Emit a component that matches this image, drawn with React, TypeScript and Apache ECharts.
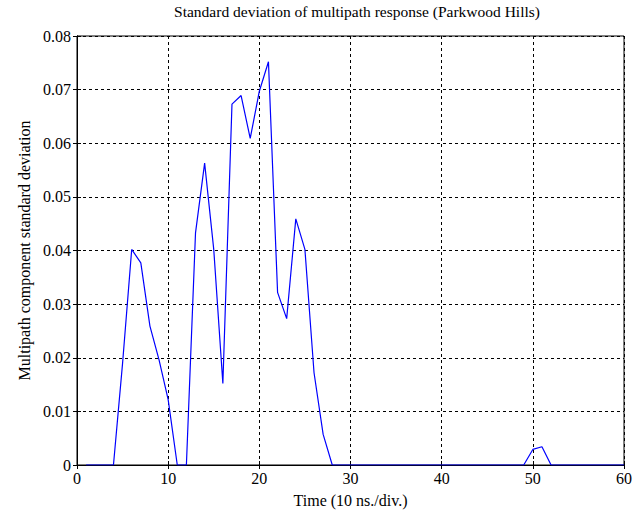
import React, { useEffect, useRef } from "react";
import * as echarts from "echarts";

const timeSteps: number[] = Array.from({ length: 60 }, (_, i) => i + 1);
const stdValues: number[] = [
  0, 0, 0, 0, 0.019, 0.0402, 0.0377, 0.0259, 0.0196, 0.0122,
  0, 0, 0.0433, 0.0563, 0.0402, 0.0152, 0.0673, 0.0689, 0.0609, 0.0697,
  0.0752, 0.0322, 0.0273, 0.0459, 0.0402, 0.0172, 0.0057, 0, 0, 0,
  0, 0, 0, 0, 0, 0, 0, 0, 0, 0,
  0, 0, 0, 0, 0, 0, 0, 0, 0, 0.0029,
  0.0034, 0, 0, 0, 0, 0, 0, 0, 0, 0,
];
const titleText = "Standard deviation of multipath response (Parkwood Hills)";
const xName = "Time (10 ns./div.)";
const yName = "Multipath component standard deviation";

export default function App() {
  const ref = useRef<HTMLDivElement>(null);
  useEffect(() => {
    if (!ref.current) return;
    const chart = echarts.init(ref.current, undefined, { renderer: "svg" });
    const font = "Liberation Serif";
    const split = { show: true, lineStyle: { color: "#000", type: [3, 3] as any, width: 1 } };
    chart.setOption({
      animation: false,
      backgroundColor: "#fff",
      title: {
        text: titleText,
        left: 352,
        textAlign: "center",
        top: 0,
        padding: [3, 5],
        textStyle: { fontFamily: font, fontWeight: "normal", fontSize: 15.5, color: "#000" },
      },
      grid: { left: 77, right: 11, top: 36, bottom: 47, show: true, borderColor: "#000", borderWidth: 1 },
      xAxis: [
        {
          type: "value",
          min: 0,
          max: 60,
          interval: 10,
          name: xName,
          nameLocation: "middle",
          nameGap: 27,
          nameTextStyle: { fontFamily: font, fontSize: 16, color: "#000" },
          axisLine: { lineStyle: { color: "#000", width: 1 } },
          axisTick: { inside: true, length: 4, lineStyle: { color: "#000" } },
          axisLabel: { fontFamily: font, fontSize: 16, color: "#000", margin: 5 },
          splitLine: split,
        },
        {
          type: "value",
          position: "top",
          min: 0,
          max: 60,
          interval: 10,
          axisLine: { show: true, lineStyle: { color: "#000" } },
          axisTick: { inside: true, length: 4, lineStyle: { color: "#000" } },
          axisLabel: { show: false },
          splitLine: { show: false },
        },
      ],
      yAxis: [
        {
          type: "value",
          min: 0,
          max: 0.08,
          interval: 0.01,
          name: yName,
          nameLocation: "middle",
          nameGap: 44,
          nameTextStyle: { fontFamily: font, fontSize: 16, color: "#000" },
          axisLine: { show: true, lineStyle: { color: "#000", width: 1 } },
          axisTick: { show: true, inside: true, length: 4, lineStyle: { color: "#000" } },
          axisLabel: {
            fontFamily: font,
            fontSize: 16,
            color: "#000",
            margin: 6,
            formatter: (v: number) => (v === 0 ? "0" : v.toFixed(2)),
          },
          splitLine: split,
        },
        {
          type: "value",
          position: "right",
          min: 0,
          max: 0.08,
          interval: 0.01,
          axisLine: { show: true, lineStyle: { color: "#000" } },
          axisTick: { show: true, inside: true, length: 4, lineStyle: { color: "#000" } },
          axisLabel: { show: false },
          splitLine: { show: false },
        },
      ],
      series: [
        {
          type: "line",
          data: timeSteps.map((t, i) => [t, stdValues[i]]),
          showSymbol: false,
          lineStyle: { color: "#0000ff", width: 1.2 },
          itemStyle: { color: "#0000ff" },
          z: 5,
        },
      ],
    });
    return () => chart.dispose();
  }, []);
  return <div ref={ref} style={{ width: 635, height: 513, position: "absolute", left: 0, top: 0 }} />;
}
